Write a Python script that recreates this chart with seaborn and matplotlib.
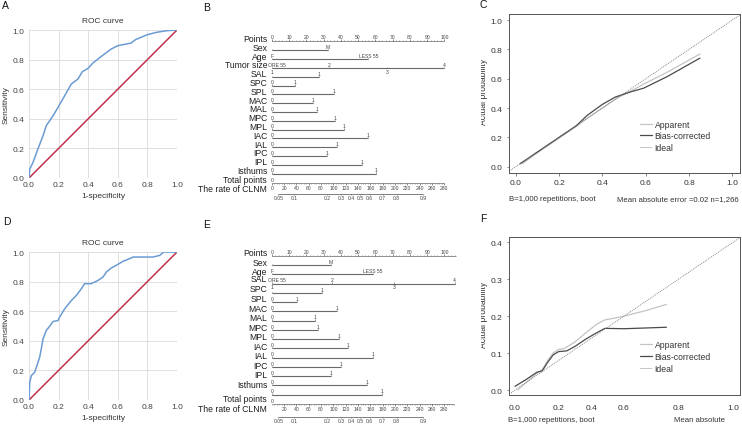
import numpy as np
import seaborn as sns
from matplotlib import pyplot as plt
from matplotlib.transforms import Bbox

W, H = 742, 427

# ---- ROC curves (1-specificity, sensitivity) ----
roc_a_fpr = [0.0, 0.005, 0.027, 0.06, 0.095, 0.117, 0.162, 0.196, 0.241, 0.286, 0.331, 0.36,
             0.399, 0.432, 0.489, 0.556, 0.6, 0.69, 0.72, 0.793, 0.86, 0.928, 1.0]
roc_a_tpr = [0.0, 0.06, 0.105, 0.196, 0.286, 0.354, 0.42, 0.477, 0.556, 0.635, 0.669, 0.718,
             0.741, 0.777, 0.822, 0.872, 0.894, 0.912, 0.935, 0.966, 0.984, 0.995, 1.0]
roc_d_fpr = [0.0, 0.005, 0.016, 0.038, 0.054, 0.072, 0.083, 0.095, 0.117, 0.14, 0.162, 0.196,
             0.207, 0.241, 0.286, 0.32, 0.354, 0.376, 0.421, 0.466, 0.5, 0.523, 0.556, 0.59,
             0.635, 0.68, 0.703, 0.838, 0.883, 0.91, 1.0]
roc_d_tpr = [0.0, 0.12, 0.165, 0.187, 0.233, 0.289, 0.345, 0.413, 0.47, 0.499, 0.53, 0.537,
             0.56, 0.616, 0.672, 0.707, 0.752, 0.786, 0.786, 0.808, 0.831, 0.865, 0.892, 0.91,
             0.937, 0.955, 0.966, 0.966, 0.977, 1.0, 1.0]
roc_diag = [0.0, 1.0]
roc_ticks = [0.0, 0.2, 0.4, 0.6, 0.8, 1.0]

# ---- calibration curves ----
cal_c_app_x = [0.03, 0.1, 0.2, 0.28, 0.33, 0.4, 0.47, 0.53, 0.6, 0.7, 0.85]
cal_c_app_y = [0.02, 0.095, 0.195, 0.275, 0.33, 0.4, 0.47, 0.515, 0.57, 0.645, 0.768]
cal_c_bias_x = [0.02, 0.1, 0.2, 0.28, 0.33, 0.4, 0.46, 0.5, 0.53, 0.59, 0.7, 0.85]
cal_c_bias_y = [0.02, 0.1, 0.2, 0.28, 0.35, 0.425, 0.475, 0.495, 0.51, 0.535, 0.615, 0.74]
cal_f_app_x = [0.005, 0.02, 0.04, 0.05, 0.06, 0.07, 0.08, 0.09, 0.11, 0.13, 0.15, 0.165,
               0.18, 0.2, 0.24, 0.278]
cal_f_app_y = [0.0, 0.02, 0.045, 0.055, 0.08, 0.1, 0.11, 0.112, 0.13, 0.155, 0.178, 0.19,
               0.194, 0.2, 0.215, 0.232]
cal_f_bias_x = [0.0, 0.02, 0.04, 0.05, 0.06, 0.07, 0.08, 0.095, 0.11, 0.13, 0.15, 0.165,
                0.2, 0.24, 0.278]
cal_f_bias_y = [0.01, 0.028, 0.048, 0.052, 0.075, 0.095, 0.104, 0.106, 0.118, 0.138, 0.155,
                0.167, 0.166, 0.168, 0.17]
ideal_c = [-0.1, 1.1]
ideal_f = [-0.05, 0.45]
calib_names = ["Apparent", "Bias-corrected", "Ideal"]
c_ticks = [0.0, 0.2, 0.4, 0.6, 0.8, 1.0]
f_yticks = [0.0, 0.1, 0.2, 0.3, 0.4]
f_xtick_pos = [0.0, 0.0807, 0.1407, 0.2, 0.3, 0.4]
f_xtick_labels = ["0.0", "0.2", "0.4", "0.6", "0.8", "1.0"]
f_xtick_marks = [0.0, 0.1, 0.2, 0.3, 0.4]

# ---- nomograms ----
nomo_b_names = ["Points", "Sex", "Age", "Tumor size", "SAL", "SPC", "SPL", "MAC", "MAL", "MPC",
                "MPL", "IAC", "IAL", "IPC", "IPL", "Isthums", "Total points", "The rate of CLNM"]
nomo_e_names = ["Points", "Sex", "Age", "SAL", "SPC", "SPL", "MAC", "MAL", "MPC",
                "MPL", "IAC", "IAL", "IPC", "IPL", "Isthums", "Total points", "The rate of CLNM"]
nomo_b_ends = [32.4, 56, 100, 27.6, 13.5, 36.1, 24.1, 26, 36.7, 41.9, 56, 38, 32.2, 52.1, 60.4]
nomo_e_ends = [34.1, 58.5, 106, 29.1, 14.5, 38, 25.1, 27, 39, 44.4, 58.8, 40.1, 34.3, 55, 63.7]
left_labels = ["", "F", "", "", "0", "0", "0", "0", "0", "0", "0", "0", "0", "0", "0"]
right_labels = ["M", "LESS 55", "", "1", "1", "1", "1", "1", "1", "1", "1", "1", "1", "1", "1"]
tumor_levels = ["1", "2", "3", "4"]
tumor_b_pts = [0, 33, 67, 100]
tumor_e_pts = [0, 35.1, 70.8, 106]
points_ticks = [0, 10, 20, 30, 40, 50, 60, 70, 80, 90, 100]
total_b_labels = [0, 20, 40, 60, 80, 100, 120, 140, 160, 180, 200, 220, 240, 260, 280]
total_e_labels = [20, 40, 60, 80, 100, 120, 140, 160, 180, 200, 220, 240, 260, 280]
clnm_labels = ["0.05", "0.1", "0.2", "0.3", "0.4", "0.5", "0.6", "0.7", "0.8", "0.9"]
clnm_total = [11, 36.6, 89.7, 112, 129.2, 143.8, 158.8, 179.8, 202.4, 245]

sns.set_theme(style="white")
plt.rcParams["font.family"] = ["Liberation Sans", "DejaVu Sans"]

fig = plt.figure(figsize=(W / 100, H / 100), dpi=100)


def rect(left, top, right, bottom):
    return [left / W, 1 - bottom / H, (right - left) / W, (bottom - top) / H]


def draw_roc(box, fpr, tpr):
    ax = fig.add_axes(box)
    sns.lineplot(x=roc_diag, y=roc_diag, color="#c0304a", lw=1.1, ax=ax)
    sns.lineplot(x=fpr, y=tpr, sort=False, estimator=None, color="#6b9bd2", lw=1.1, ax=ax)
    ax.set_xlim(0, 1)
    ax.set_ylim(0, 1)
    ax.set_xticks(roc_ticks, [f"{t:.1f}" for t in roc_ticks])
    ax.set_yticks(roc_ticks, [f"{t:.1f}" for t in roc_ticks])
    ax.grid(True, color="#dadada", lw=0.6)
    ax.set_axisbelow(True)
    for s in ax.spines.values():
        s.set_visible(False)
    ax.tick_params(length=0, labelsize=6, colors="#444444")
    ax.tick_params(axis="x", pad=2)
    ax.tick_params(axis="y", pad=3.5)
    ax.set_title("ROC curve", fontsize=6, color="#333333", pad=6)
    ax.set_xlabel("1-specificity", fontsize=6, color="#333333", labelpad=3)
    ax.set_ylabel("Sensitivity", fontsize=6, color="#333333", labelpad=2)
    return ax


def draw_calibration(box, app_x, app_y, bias_x, bias_y, ideal, legend_top):
    ax = fig.add_axes(box)
    sns.lineplot(x=app_x, y=app_y, sort=False, estimator=None, color="#c4c4c4", lw=0.9,
                 label=calib_names[0], ax=ax)
    sns.lineplot(x=bias_x, y=bias_y, sort=False, estimator=None, color="#4a4a4a", lw=0.9,
                 label=calib_names[1], ax=ax)
    sns.lineplot(x=ideal, y=ideal, color="#7a7a7a", lw=0.6, linestyle=(0, (1.2, 1.2)),
                 label=calib_names[2], ax=ax)
    for s in ax.spines.values():
        s.set_color("#555555")
        s.set_linewidth(0.7)
    ax.tick_params(length=1.8, width=0.5, colors="#555555", labelsize=6,
                   labelcolor="#333333", direction="out", bottom=True, left=True)
    ax.tick_params(axis="x", pad=2.8)
    ax.tick_params(axis="y", pad=3.2)
    ax.legend(loc="upper left", bbox_to_anchor=(0.567, legend_top), frameon=False,
              fontsize=6.2, handlelength=1.4, handletextpad=0.3, labelspacing=0.3,
              borderpad=0, borderaxespad=0, labelcolor="#333333")
    return ax


# ROC panels
draw_roc(rect(29, 31, 177, 179), roc_a_fpr, roc_a_tpr)
draw_roc(rect(29, 253, 177, 401), roc_d_fpr, roc_d_tpr)

# calibration panels
ax_c = draw_calibration(rect(509, 15, 740, 174), cal_c_app_x, cal_c_app_y,
                        cal_c_bias_x, cal_c_bias_y, ideal_c, 0.335)
ax_c.set_xlim(-0.031, 1.035)
ax_c.set_ylim(-0.043, 1.041)
ax_c.set_xticks(c_ticks, [f"{t:.1f}" for t in c_ticks])
ax_c.set_yticks(c_ticks, [f"{t:.1f}" for t in c_ticks])

ax_f = draw_calibration(rect(509, 238, 740, 396), cal_f_app_x, cal_f_app_y,
                        cal_f_bias_x, cal_f_bias_y, ideal_f, 0.345)
ax_f.set_xlim(-0.011, 0.413)
ax_f.set_ylim(-0.0135, 0.4144)
ax_f.set_yticks(f_yticks, [f"{t:.1f}" for t in f_yticks])
ax_f.set_xticks(f_xtick_pos, f_xtick_labels)
ax_f.set_xticks(f_xtick_marks, minor=True)
ax_f.tick_params(axis="x", which="major", length=0, pad=6.3)
ax_f.tick_params(axis="x", which="minor", length=1.8, width=0.5, colors="#555555")

clip = Bbox.from_extents(481, 0, W, H)
for yc in (92, 315):
    t = fig.text(483.5 / W, 1 - yc / H, "Actual probability", rotation=90, ha="center",
                 va="center", fontsize=6.2, color="#333333")
    t.set_clip_box(clip)
    t.set_clip_on(True)

foot = dict(fontsize=5.6, color="#333333", va="center")
fig.text(509 / W, 1 - 199.5 / H, "B=1,000 repetitions, boot", ha="left", **foot)
fig.text(738.5 / W, 1 - 199.5 / H, "Mean absolute error =0.02 n=1,266", ha="right", **foot)
fig.text(508 / W, 1 - 421 / H, "B=1,000 repetitions, boot", ha="left", **foot)
fig.text(725 / W, 1 - 421 / H, "Mean absolute", ha="right", **foot)


# nomograms
def draw_nomogram(ax, names, names_y, line_y, ends, tumor_pts, points_y, points_max,
                  total_y, total_max, total_labels, clnm_y):
    ink = "#6a6a6a"
    small = 3.6
    to_pts = 100 / 280
    for name, y in zip(names, names_y):
        ax.text(-2.6, y, name, ha="right", va="center", fontsize=6.2, color="#1e1e1e")

    ax.hlines(points_y, 0, points_max, color=ink, lw=0.5)
    ax.vlines(np.arange(0, points_max + 0.01, 2), points_y - 0.9, points_y, color=ink, lw=0.4)
    ax.vlines(points_ticks, points_y - 1.7, points_y, color=ink, lw=0.5)
    for p in points_ticks:
        ax.text(p, points_y - 2.3, str(p), ha="center", va="bottom", fontsize=small,
                color="#444444")

    x0_disp = ax.transData.transform((0, 0))[0]
    for i, (end, y) in enumerate(zip(ends, line_y)):
        ax.hlines(y, 0, end, color=ink, lw=0.8)
        if i == 2:
            ax.vlines(tumor_pts, y - 1.2, y, color=ink, lw=0.5)
            for lev, p in zip(tumor_levels, tumor_pts):
                if lev in ("2", "4"):
                    ax.text(p, y - 1.0, lev, ha="center", va="bottom", fontsize=small,
                            color="#444444")
                else:
                    ax.text(p, y + 1.0, lev, ha="center", va="top", fontsize=small,
                            color="#444444")
            more = ax.text(-4.5, y - 1.0, "MORE 55", ha="left", va="bottom", fontsize=small,
                           color="#444444")
            more.set_clip_box(Bbox.from_extents(x0_disp - 3.3, 0, W, H))
            more.set_clip_on(True)
        else:
            ax.vlines([0, end], y - 1.2, y, color=ink, lw=0.5)
            ax.text(0, y - 1.0, left_labels[i], ha="center", va="bottom", fontsize=small,
                    color="#444444")
            ax.text(end, y - 1.0, right_labels[i], ha="center", va="bottom", fontsize=small,
                    color="#444444")

    ax.hlines(total_y, 0, total_max * to_pts, color=ink, lw=0.5)
    ax.vlines(np.arange(0, total_max + 0.01, 4) * to_pts, total_y, total_y + 0.9,
              color=ink, lw=0.4)
    ax.vlines(np.array(total_labels) * to_pts, total_y, total_y + 1.7, color=ink, lw=0.5)
    for tv in total_labels:
        ax.text(tv * to_pts, total_y + 2.2, str(tv), ha="center", va="top", fontsize=small,
                color="#444444")
    ax.text(0, total_y - 1.0, "0", ha="center", va="bottom", fontsize=small, color="#444444")

    xs = np.array(clnm_total) * to_pts
    ax.hlines(clnm_y, xs[0], xs[-1], color=ink, lw=0.6)
    ax.vlines(xs, clnm_y, clnm_y + 1.2, color=ink, lw=0.5)
    for lab, x in zip(clnm_labels, xs):
        ax.text(x, clnm_y + 1.9, lab, ha="center", va="top", fontsize=small, color="#444444")


x_lo, x_hi = (200 - 271.7) / 1.727, (480 - 271.7) / 1.727

ax_b = fig.add_axes(rect(200, 0, 480, 210))
ax_b.set_xlim(x_lo, x_hi)
ax_b.set_ylim(210, 0)
ax_b.axis("off")
b_names_y = [39.5 + 8.8 * i for i in range(len(nomo_b_names))]
b_line_y = [y + 3 for y in b_names_y[1:16]]
draw_nomogram(ax_b, nomo_b_names, b_names_y, b_line_y, nomo_b_ends, tumor_b_pts,
              points_y=42, points_max=100, total_y=184, total_max=280,
              total_labels=total_b_labels, clnm_y=194.6)

ax_e = fig.add_axes(rect(200, 210, 480, 427))
ax_e.set_xlim(x_lo, x_hi)
ax_e.set_ylim(427, 210)
ax_e.axis("off")
e_names_y = [254, 263.5, 273, 280, 290, 299.5, 309.5, 319, 328.5, 338, 347.5, 357, 366.5,
             376, 386, 400, 410]
e_line_y = [266 + 9.25 * k for k in range(15)]
draw_nomogram(ax_e, nomo_e_names, e_names_y, e_line_y, nomo_e_ends, tumor_e_pts,
              points_y=257, points_max=106.8, total_y=405, total_max=296,
              total_labels=total_e_labels, clnm_y=417.5)

# panel letters
letter = dict(fontsize=7.5, color="#111111", ha="left", va="top")
fig.text(2 / W, 1 - 1 / H, "A", **letter)
fig.text(203 / W, 1 - 3 / H, "B", **letter)
fig.text(480 / W, 1 - 0 / H, "C", **letter)
fig.text(3 / W, 1 - 217 / H, "D", **letter)
fig.text(203 / W, 1 - 220.5 / H, "E", **letter)
fig.text(480 / W, 1 - 214 / H, "F", **letter)

fig.savefig("out.png", dpi=100)
plt.close(fig)
